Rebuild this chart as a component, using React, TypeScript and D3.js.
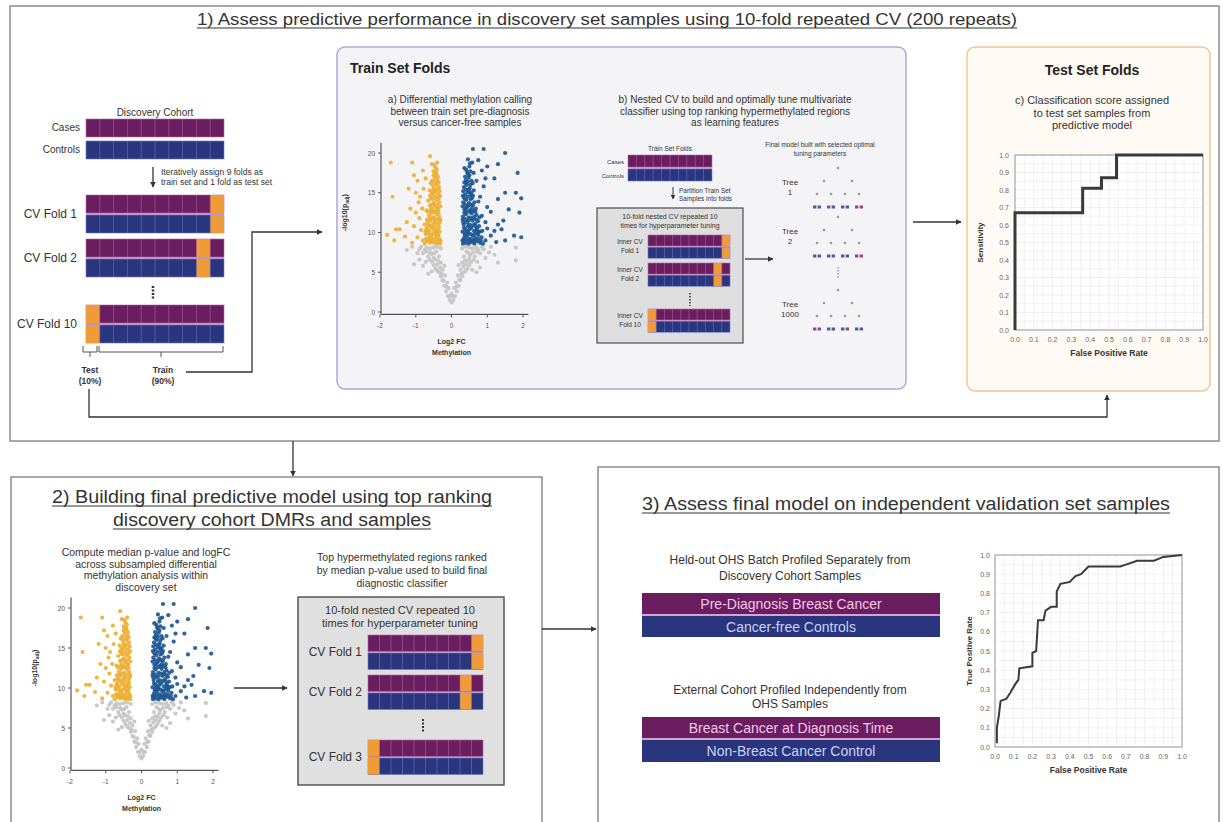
import React from "react";
import * as d3 from "d3";

const FONT = "'Liberation Sans', Arial, Helvetica, sans-serif";
const CASE = "#6b1e5f";
const CASE_LINE = "#b566a8";
const CTRL = "#29357d";
const CTRL_LINE = "#6a7cc8";
const TEST = "#f09a38";
const YELLOW = "#edb035";
const BLUE = "#1d5892";
const GREY = "#c4c4c4";
const INK = "#333";
const BOX = "#8c8c8c";

// tick labels
const FC_TICKS = [-2, -1, 0, 1, 2];
const P_TICKS = [0, 5, 10, 15, 20];
const ROC_TICKS = [0, 0.1, 0.2, 0.3, 0.4, 0.5, 0.6, 0.7, 0.8, 0.9, 1.0];
const CELLS = [0, 1, 2, 3, 4, 5, 6, 7, 8, 9];

// folds: index of the held-out (test) cell
const OUTER_FOLDS = ["CV Fold 1", "CV Fold 2", "CV Fold 10"];
const OUTER_TEST = [9, 8, 0];
const INNER_FOLDS = [["Inner CV", "Fold 1"], ["Inner CV", "Fold 2"], ["Inner CV", "Fold 10"]];
const INNER_TEST = [9, 8, 0];
const FINAL_FOLDS = ["CV Fold 1", "CV Fold 2", "CV Fold 3"];
const FINAL_TEST = [9, 8, 0];

// random forest trees
const TREE_NAMES = ["1", "2", "1000"];
const TREE_LEAVES = [
  ["n", "n", "p", "n", "n", "n", "p", "p"],
  ["n", "n", "n", "n", "n", "n", "p", "p"],
  ["p", "p", "n", "n", "n", "p", "n", "n"],
];

// volcano plot: [log2FC, -log10(p_adj)]
const VOLC_DOWN: [number, number][] = [
  [-0.32, 8.6], [-0.38, 8.7], [-0.45, 8.6], [-0.52, 8.8], [-0.6, 8.7], [-0.68, 8.9], [-0.75, 8.6], [-0.35, 9.3],
  [-0.42, 9.5], [-0.5, 9.2], [-0.57, 9.6], [-0.64, 9.3], [-0.72, 9.8], [-0.33, 10.1], [-0.4, 10.4], [-0.47, 10.0],
  [-0.55, 10.6], [-0.62, 10.2], [-0.7, 10.5], [-0.36, 11.0], [-0.44, 11.3], [-0.51, 11.1], [-0.59, 11.5], [-0.66, 11.2],
  [-0.34, 12.0], [-0.41, 12.3], [-0.48, 11.9], [-0.56, 12.4], [-0.63, 12.1], [-0.37, 12.9], [-0.45, 13.2], [-0.52, 12.8],
  [-0.6, 13.4], [-0.34, 13.8], [-0.42, 14.1], [-0.49, 13.7], [-0.57, 14.3], [-0.65, 14.0], [-0.38, 14.8], [-0.46, 15.1],
  [-0.53, 14.7], [-0.61, 15.3], [-0.35, 15.7], [-0.43, 16.0], [-0.5, 15.6], [-0.58, 16.2], [-0.39, 16.6], [-0.47, 16.9],
  [-0.54, 16.5], [-0.42, 17.4], [-0.5, 17.7], [-0.45, 18.2], [-0.55, 18.6], [-0.4, 18.8], [-0.31, 9.0], [-0.39, 9.9],
  [-0.46, 10.8], [-0.53, 9.8], [-0.61, 8.9], [-0.67, 9.9], [-0.31, 11.6], [-0.38, 11.7], [-0.5, 12.6], [-0.31, 13.3],
  [-0.39, 13.5], [-0.55, 13.5], [-0.32, 14.6], [-0.51, 15.0], [-0.36, 16.3], [-0.44, 17.5],
  [-0.34, 8.9], [-0.41, 9.1], [-0.49, 8.9], [-0.56, 9.1], [-0.64, 9.0], [-0.71, 9.2], [-0.37, 9.7], [-0.45, 9.8],
  [-0.6, 9.7], [-0.68, 10.3], [-0.35, 10.6], [-0.43, 10.2], [-0.51, 10.4], [-0.58, 10.9], [-0.65, 10.8], [-0.73, 10.1],
  [-0.33, 11.3], [-0.47, 11.5], [-0.55, 11.8], [-0.62, 11.7], [-0.69, 11.6], [-0.36, 12.5], [-0.44, 12.6], [-0.59, 12.7],
  [-0.66, 12.6], [-0.4, 13.0], [-0.48, 13.4], [-0.57, 13.0], [-0.36, 14.3], [-0.45, 14.5], [-0.53, 14.2], [-0.6, 14.6],
  [-0.41, 15.4], [-0.49, 15.4], [-0.56, 15.0], [-0.33, 15.2], [-0.4, 16.2], [-0.53, 16.0], [-0.46, 16.4], [-0.38, 17.0],
  [-0.5, 17.2], [-0.41, 17.9], [-0.48, 18.5],
  [-0.8, 9.0], [-0.85, 10.3], [-0.9, 11.8], [-0.82, 13.0], [-0.88, 14.5], [-0.78, 15.5], [-0.95, 16.5], [-0.8, 17.8],
  [-0.6, 19.6], [-1.05, 17.2], [-1.1, 18.8], [-1.0, 12.5], [-1.05, 10.8], [-0.95, 9.4], [-1.2, 15.5], [-1.15, 13.0],
  [-1.25, 11.3], [-1.1, 8.7], [-1.3, 9.5], [-1.45, 10.4], [-1.55, 10.4], [-1.6, 9.0], [-1.8, 9.7], [-1.65, 14.5],
  [-1.7, 18.8], [-0.72, 16.8], [-0.7, 12.8], [-0.75, 11.0], [-0.92, 13.8], [-1.0, 15.0],
];
const VOLC_UP: [number, number][] = [
  [0.32, 8.6], [0.4, 8.7], [0.48, 8.6], [0.56, 8.8], [0.64, 8.6], [0.72, 8.9], [0.8, 8.7], [0.88, 8.6], [0.35, 9.3],
  [0.43, 9.5], [0.51, 9.2], [0.59, 9.6], [0.67, 9.3], [0.75, 9.7], [0.84, 9.4], [0.31, 10.1], [0.39, 10.4], [0.47, 10.0],
  [0.55, 10.6], [0.63, 10.2], [0.71, 10.5], [0.79, 10.1], [0.34, 11.0], [0.42, 11.3], [0.5, 11.0], [0.58, 11.5],
  [0.66, 11.1], [0.74, 11.4], [0.32, 12.0], [0.4, 12.3], [0.48, 11.9], [0.56, 12.4], [0.64, 12.0], [0.36, 12.9],
  [0.44, 13.2], [0.52, 12.8], [0.6, 13.4], [0.68, 13.0], [0.33, 13.8], [0.41, 14.1], [0.49, 13.7], [0.57, 14.3],
  [0.38, 14.8], [0.46, 15.1], [0.54, 14.7], [0.62, 15.3], [0.35, 15.7], [0.43, 16.0], [0.51, 15.6], [0.59, 16.2],
  [0.4, 16.6], [0.48, 16.9], [0.56, 16.5], [0.45, 17.4], [0.53, 17.7], [0.5, 18.3], [0.58, 18.8], [0.46, 19.2],
  [0.31, 9.0], [0.38, 9.9], [0.46, 10.8], [0.53, 9.8], [0.61, 8.9], [0.69, 9.9], [0.31, 11.6], [0.38, 11.7],
  [0.52, 12.6], [0.31, 13.3], [0.38, 13.5], [0.55, 13.5], [0.32, 14.6], [0.5, 15.0], [0.36, 16.3], [0.44, 17.6],
  [0.36, 18.1], [0.7, 12.2], [0.77, 10.8], [0.86, 10.2],
  [0.34, 8.9], [0.42, 9.1], [0.5, 8.9], [0.58, 9.1], [0.66, 9.0], [0.74, 9.2], [0.82, 9.0], [0.37, 9.7], [0.45, 9.8],
  [0.62, 9.7], [0.7, 10.3], [0.35, 10.6], [0.43, 10.2], [0.51, 10.4], [0.59, 10.9], [0.67, 10.8], [0.75, 10.1],
  [0.33, 11.3], [0.47, 11.5], [0.55, 11.8], [0.62, 11.7], [0.7, 11.6], [0.78, 11.9], [0.36, 12.5], [0.44, 12.6],
  [0.6, 12.7], [0.67, 12.6], [0.4, 13.0], [0.48, 13.4], [0.57, 13.0], [0.64, 13.8], [0.36, 14.3], [0.45, 14.5],
  [0.53, 14.2], [0.6, 14.6], [0.41, 15.4], [0.49, 15.4], [0.56, 15.0], [0.33, 15.2], [0.4, 16.2], [0.53, 16.0],
  [0.46, 16.4], [0.38, 17.0], [0.5, 17.2], [0.41, 17.9], [0.52, 18.7], [0.62, 17.5],
  [0.6, 20.5], [0.9, 20.5], [1.5, 20.0], [0.75, 19.1], [1.0, 18.3], [1.3, 18.6], [0.85, 17.8], [1.85, 17.5],
  [0.95, 16.8], [0.7, 16.5], [1.2, 16.8], [0.9, 15.8], [1.8, 15.0], [1.5, 15.0], [1.95, 14.3], [1.3, 14.2],
  [0.8, 14.5], [1.0, 13.2], [0.75, 13.9], [1.6, 12.9], [1.1, 12.6], [1.9, 12.5], [0.85, 12.1], [1.45, 11.5],
  [0.95, 11.3], [1.3, 11.0], [1.2, 10.2], [1.4, 10.4], [1.1, 9.6], [1.75, 9.6], [1.95, 9.4], [1.5, 9.0],
  [0.95, 9.0], [1.0, 10.5], [1.25, 8.8],
];
const VOLC_NS: [number, number][] = [
  [0, 1.2], [-0.05, 1.5], [0.05, 1.5], [-0.1, 2.0], [0.1, 2.0], [0, 2.3], [-0.15, 2.6], [0.15, 2.6], [-0.08, 3.0],
  [0.08, 3.0], [-0.2, 3.3], [0.2, 3.3], [-0.12, 3.7], [0.12, 3.7], [-0.25, 4.0], [0.25, 4.0], [-0.3, 4.5], [0.3, 4.5],
  [-0.18, 4.6], [0.18, 4.6], [-0.35, 5.0], [0.35, 5.0], [-0.25, 5.3], [0.25, 5.3], [-0.45, 5.5], [0.45, 5.5],
  [-0.4, 6.0], [0.4, 6.0], [-0.3, 6.2], [0.3, 6.2], [-0.55, 6.3], [0.55, 6.3], [-0.5, 6.8], [0.5, 6.8], [-0.35, 7.0],
  [0.35, 7.0], [-0.65, 7.0], [0.65, 7.0], [-0.6, 7.5], [0.6, 7.5], [-0.42, 7.6], [0.42, 7.6], [-0.75, 7.8],
  [0.75, 7.8], [-0.3, 8.0], [0.3, 8.0], [-0.5, 8.1], [0.5, 8.1], [-0.85, 8.2], [0.85, 8.2], [-0.7, 8.1], [0.7, 8.1],
  [-0.22, 3.9], [0.22, 4.1], [-0.32, 5.6], [0.33, 5.7], [-0.46, 6.6], [0.45, 6.4], [-0.55, 7.3], [0.52, 7.2],
  [-0.6, 8.0], [0.6, 8.0], [-0.4, 8.2], [0.4, 8.2], [-0.8, 7.4], [0.8, 7.4], [-0.7, 7.6], [0.7, 7.6], [-0.48, 7.4],
  [0.48, 7.4], [-0.62, 6.6], [0.62, 6.6], [-0.38, 6.5], [0.38, 6.5], [-0.72, 6.3], [0.72, 6.3], [-0.5, 5.9],
  [0.5, 5.9], [-0.28, 4.8], [0.28, 4.8], [-0.4, 5.2], [0.4, 5.2], [-0.15, 3.2], [0.15, 3.2], [-0.05, 2.0], [0.05, 2.0],
  [-0.9, 7.9], [0.9, 7.9], [-0.55, 5.1], [0.58, 5.3],
  [-1.05, 6.0], [-1.25, 7.8], [-0.95, 7.4], [-0.9, 6.6], [1.05, 7.5], [1.2, 7.2], [1.3, 6.2], [0.95, 6.8], [1.8, 8.1],
  [1.8, 6.5], [-0.8, 5.8], [0.8, 5.6], [-0.65, 4.8], [0.7, 5.0], [-0.2, 5.8], [0.2, 5.9], [1.1, 8.2], [-1.1, 8.2],
];

// ROC curves: [false positive rate, true positive rate]
const ROC_CV: [number, number][] = [[0, 0], [0, 0.67], [0.36, 0.81], [0.46, 0.87], [0.54, 1.0], [1.0, 1.0]];
const ROC_VAL: [number, number][] = [
  [0.01, 0.02], [0.01, 0.1], [0.02, 0.16], [0.03, 0.24], [0.06, 0.25], [0.08, 0.28], [0.11, 0.33], [0.125, 0.35],
  [0.13, 0.41], [0.2, 0.42], [0.2, 0.49], [0.22, 0.5], [0.23, 0.66], [0.26, 0.66], [0.27, 0.71], [0.3, 0.73],
  [0.33, 0.73], [0.33, 0.81], [0.35, 0.85], [0.4, 0.86], [0.43, 0.89], [0.46, 0.9], [0.5, 0.94], [0.67, 0.94],
  [0.7, 0.95], [0.76, 0.97], [0.85, 0.97], [0.9, 0.99], [1.0, 1.0],
];

function Lines({ x, y, dy, lines, size, anchor = "middle", weight = "normal", fill = INK }: any) {
  return (
    <text x={x} y={y} fontSize={size} textAnchor={anchor} fontWeight={weight} fill={fill} fontFamily={FONT}>
      {lines.map((l: string, i: number) => (
        <tspan key={i} x={x} dy={i === 0 ? 0 : dy}>{l}</tspan>
      ))}
    </text>
  );
}

function FoldGrid({ x, y, w, rowH, gap, test, gapFill = "#d9a3cf" }: any) {
  const band = d3.scaleBand<number>().domain(CELLS).range([x, x + w]);
  const rows = [
    { fill: CASE, line: CASE_LINE },
    { fill: CTRL, line: CTRL_LINE },
  ];
  return (
    <g>
      {gap > 0 && <rect x={x} y={y + rowH} width={w} height={gap} fill={gapFill} />}
      {rows.map((row, r) => {
        const ry = y + r * (rowH + gap);
        return (
          <g key={r}>
            <rect x={x} y={ry} width={w} height={rowH} fill={row.fill} stroke={row.line} strokeWidth={0.6} />
            {test != null && (
              <rect x={band(test)} y={ry} width={band.bandwidth()} height={rowH} fill={TEST} />
            )}
            {CELLS.slice(1).map((c) => (
              <line key={c} x1={band(c)} x2={band(c)} y1={ry} y2={ry + rowH} stroke={row.line} strokeWidth={0.7} opacity={0.8} />
            ))}
          </g>
        );
      })}
    </g>
  );
}

function Volcano({ left, right, bottom, top }: any) {
  const x = d3.scaleLinear().domain([-2, 2]).range([left, right]);
  const y = d3.scaleLinear().domain([0, 20]).range([bottom, top]);
  const groups = [
    { data: VOLC_NS, fill: GREY },
    { data: VOLC_DOWN, fill: YELLOW },
    { data: VOLC_UP, fill: BLUE },
  ];
  const axisY = y(-0.3);
  return (
    <g fontFamily={FONT}>
      {groups.map((g, gi) => (
        <g key={gi}>
          {g.data.map((d, i) => (
            <circle key={i} cx={x(d[0])} cy={y(d[1])} r={2.1} fill={g.fill} opacity={0.92} />
          ))}
        </g>
      ))}
      <line x1={x(-2) + 1} x2={x(-2) + 1} y1={axisY} y2={y(21.3)} stroke="#555" strokeWidth={1.2} />
      <line x1={x(-2) + 1} x2={x(2.15)} y1={axisY} y2={axisY} stroke="#555" strokeWidth={1.2} />
      {P_TICKS.map((t) => (
        <g key={t}>
          <line x1={x(-2) - 2} x2={x(-2) + 1} y1={y(t)} y2={y(t)} stroke="#555" />
          <text x={x(-2) - 5} y={y(t) + 2.5} fontSize={6.5} textAnchor="end" fill="#555">{t}</text>
        </g>
      ))}
      {FC_TICKS.map((t) => (
        <g key={t}>
          <line x1={x(t)} x2={x(t)} y1={axisY} y2={axisY + 3} stroke="#555" />
          <text x={x(t)} y={bottom + 16} fontSize={6.5} textAnchor="middle" fill="#555">{t}</text>
        </g>
      ))}
      <Lines x={x(0)} y={bottom + 32} dy={11} lines={["Log2 FC", "Methylation"]} size={7} weight="bold" />
      <text transform={`translate(${left - 33},${y(12.5)}) rotate(-90)`} fontSize={7} fontWeight="bold" textAnchor="middle" fill={INK}>
        -log10(p<tspan fontSize={5} dy={2}>adj</tspan><tspan dy={-2}>)</tspan>
      </text>
    </g>
  );
}

function Roc({ x0, x1, y0, y1, data, step, yLabel, labelDx, tickDx, width }: any) {
  const x = d3.scaleLinear().domain([0, 1]).range([x0, x1]);
  const y = d3.scaleLinear().domain([0, 1]).range([y1, y0]);
  const line = d3.line<[number, number]>().x((d) => x(d[0])).y((d) => y(d[1])).curve(step ? d3.curveStepAfter : d3.curveLinear);
  const minor = x.ticks(20);
  return (
    <g fontFamily={FONT}>
      <rect x={x0} y={y0} width={x1 - x0} height={y1 - y0} fill="#fff" />
      {minor.map((t, i) => (
        <g key={i}>
          <line x1={x(t)} x2={x(t)} y1={y0} y2={y1} stroke="#d8d8d8" strokeWidth={0.6} strokeDasharray="1.5,1" />
          <line x1={x0} x2={x1} y1={y(t)} y2={y(t)} stroke="#d8d8d8" strokeWidth={0.6} strokeDasharray="1.5,1" />
        </g>
      ))}
      <rect x={x0} y={y0} width={x1 - x0} height={y1 - y0} fill="none" stroke="#9a9a9a" strokeWidth={1} />
      {ROC_TICKS.map((t) => (
        <g key={t}>
          <text x={x0 - tickDx} y={y(t) + 2.5} fontSize={7} textAnchor="end" fill="#666">{t.toFixed(1)}</text>
          <text x={x(t)} y={y1 + 12} fontSize={7} textAnchor="middle" fill="#666">{t.toFixed(1)}</text>
        </g>
      ))}
      <path d={line(data) || ""} fill="none" stroke="#3a3a3a" strokeWidth={width} strokeLinejoin="miter" />
      <text x={(x0 + x1) / 2} y={y1 + 26} fontSize={8.5} fontWeight="bold" textAnchor="middle" fill={INK}>False Positive Rate</text>
      <text transform={`translate(${x0 - labelDx},${(y0 + y1) / 2}) rotate(-90)`} fontSize={8} fontWeight="bold" textAnchor="middle" fill={INK}>{yLabel}</text>
    </g>
  );
}

function Tree({ cx, top, leaves }: any) {
  const build = (d: number): any => (d === 0 ? {} : { children: [build(d - 1), build(d - 1)] });
  const root = d3.hierarchy(build(3));
  d3.tree().size([56, 39])(root);
  const nodes = root.descendants() as any[];
  const leafNodes = root.leaves() as any[];
  return (
    <g transform={`translate(${cx - 28},${top})`}>
      {nodes.filter((n) => n.children).map((n, i) => (
        <circle key={i} cx={n.x} cy={n.y} r={1.3} fill="#9a9a9a" />
      ))}
      {leafNodes.map((n, i) => (
        <rect key={i} x={n.x - 1.7} y={n.y - 1.5} width={3.4} height={3} fill={leaves[i] === "p" ? "#8e4a85" : "#4e5aa0"} />
      ))}
    </g>
  );
}

export default function App() {
  const arrowProps = { fill: "none", stroke: INK, strokeWidth: 1.3, markerEnd: "url(#ah)" };
  return (
    <svg width={1223} height={822} style={{ position: "absolute", left: 0, top: 0 }} fontFamily={FONT}>
      <defs>
        <marker id="ah" viewBox="0 0 10 10" refX="9" refY="5" markerWidth="4.5" markerHeight="4.5" orient="auto">
          <path d="M0,0L10,5L0,10z" fill={INK} />
        </marker>
      </defs>
      <rect width={1223} height={822} fill="#fff" />

      {/* ---------- section 1 ---------- */}
      <rect x={10} y={6} width={1209} height={435} fill="#fff" stroke={BOX} strokeWidth={1.5} />
      <text x={607} y={25} fontSize={16} textAnchor="middle" fill={INK} textLength={820} lengthAdjust="spacingAndGlyphs">
        1) Assess predictive performance in discovery set samples using 10-fold repeated CV (200 repeats)
      </text>
      <line x1={197} x2={1017} y1={28} y2={28} stroke={INK} strokeWidth={1} />

      {/* discovery cohort */}
      <text x={155} y={116} fontSize={10} textAnchor="middle" fill={INK}>Discovery Cohort</text>
      <FoldGrid x={86} y={119} w={138} rowH={18} gap={4} test={null} gapFill="#fff" />
      <text x={80} y={131} fontSize={10} textAnchor="end" fill={INK}>Cases</text>
      <text x={80} y={153} fontSize={10} textAnchor="end" fill={INK}>Controls</text>
      <line x1={153} x2={153} y1={167} y2={187} {...arrowProps} />
      <Lines x={161} y={175} dy={10} lines={["Iteratively assign 9 folds as", "train set and 1 fold as test set"]} size={8.5} anchor="start" />
      {OUTER_FOLDS.map((label, i) => {
        const y = [195, 239, 305][i];
        return (
          <g key={label}>
            <FoldGrid x={86} y={y} w={138} rowH={18} gap={2} test={OUTER_TEST[i]} />
            <text x={77} y={y + 23} fontSize={12} textAnchor="end" fill={INK}>{label}</text>
          </g>
        );
      })}
      <line x1={153} x2={153} y1={286} y2={300} stroke={INK} strokeWidth={2.5} strokeDasharray="2,1.5" />
      <path d="M83,346 V352 H97 V346 M90,352 V357" fill="none" stroke="#555" strokeWidth={1} />
      <path d="M99,346 V352 H223 V346 M161,352 V357" fill="none" stroke="#555" strokeWidth={1} />
      <Lines x={90} y={373} dy={11} lines={["Test", "(10%)"]} size={8.5} weight="bold" />
      <Lines x={163} y={373} dy={11} lines={["Train", "(90%)"]} size={8.5} weight="bold" />
      <path d="M186,372 H252 V232 H322" {...arrowProps} />
      <path d="M89,389 V417 H1107 V395" {...arrowProps} />

      {/* train set folds box */}
      <rect x={337} y={47} width={569} height={342} rx={8} fill="#f4f4f7" stroke="#aca9dc" strokeWidth={1.5} />
      <text x={350} y={73} fontSize={14} fontWeight="bold" fill="#222">Train Set Folds</text>
      <Lines x={460} y={103} dy={11.5} size={10} lines={["a) Differential methylation calling", "between train set pre-diagnosis", "versus cancer-free samples"]} />
      <Volcano left={380} right={523} bottom={312} top={153} />

      <Lines x={735} y={103} dy={11.5} size={10} lines={["b) Nested CV to build and optimally tune multivariate", "classifier using top ranking hypermethylated regions", "as learning features"]} />
      <text x={670} y={151} fontSize={6.5} textAnchor="middle" fill={INK}>Train Set Folds</text>
      <FoldGrid x={628} y={155} w={84} rowH={12} gap={2} test={null} />
      <text x={624} y={164} fontSize={6} textAnchor="end" fill={INK}>Cases</text>
      <text x={624} y={178} fontSize={6} textAnchor="end" fill={INK}>Controls</text>
      <line x1={673} x2={673} y1={187} y2={199} {...arrowProps} strokeWidth={1} />
      <Lines x={679} y={193} dy={8} lines={["Partition Train Set", "Samples into folds"]} size={6.5} anchor="start" />
      <rect x={597} y={208} width={146} height={135} fill="#dedede" stroke="#5a5a5a" strokeWidth={1.3} />
      <Lines x={670} y={219} dy={8.5} lines={["10-fold nested CV repeated 10", "times for hyperparameter tuning"]} size={7} />
      {INNER_FOLDS.map((lab, i) => {
        const y = [235, 263, 309][i];
        return (
          <g key={i}>
            <FoldGrid x={648} y={y} w={82} rowH={11} gap={1.2} test={INNER_TEST[i]} />
            <Lines x={630} y={y + 9} dy={9} lines={lab} size={6.5} />
          </g>
        );
      })}
      <line x1={690} x2={690} y1={293} y2={306} stroke={INK} strokeWidth={1.5} strokeDasharray="1.5,1.5" />
      <line x1={745} x2={773} y1={259} y2={259} {...arrowProps} />
      <Lines x={820} y={147} dy={9} lines={["Final model built with selected optimal", "tuning parameters"]} size={6.5} />
      {TREE_NAMES.map((name, i) => {
        const top = [168, 217, 290][i];
        return (
          <g key={name}>
            <Lines x={790} y={top + 17} dy={10} lines={["Tree", name]} size={8} />
            <Tree cx={838} top={top} leaves={TREE_LEAVES[i]} />
          </g>
        );
      })}
      <line x1={838} x2={838} y1={267} y2={279} stroke="#888" strokeWidth={1.2} strokeDasharray="1.5,1.5" />
      <line x1={913} x2={961} y1={222} y2={222} {...arrowProps} />

      {/* test set folds box */}
      <rect x={967} y={47} width={243} height={344} rx={8} fill="#fffbf4" stroke="#f0c796" strokeWidth={1.5} />
      <text x={1092} y={75} fontSize={14} fontWeight="bold" textAnchor="middle" fill="#222">Test Set Folds</text>
      <Lines x={1092} y={104} dy={12.5} size={11} lines={["c) Classification score assigned", "to test set samples from", "predictive model"]} />
      <Roc x0={1015} x1={1203} y0={155} y1={330} data={ROC_CV} step={true} yLabel="Sensitivity" labelDx={32} tickDx={6} width={3} />

      {/* ---------- section 2 ---------- */}
      <line x1={293} x2={293} y1={441} y2={476} {...arrowProps} />
      <rect x={11} y={477} width={531} height={360} fill="#fff" stroke={BOX} strokeWidth={1.5} />
      <text x={272} y={503} fontSize={18} textAnchor="middle" fill={INK} textLength={440} lengthAdjust="spacingAndGlyphs">
        2) Building final predictive model using top ranking
      </text>
      <line x1={52} x2={492} y1={506} y2={506} stroke={INK} strokeWidth={1} />
      <text x={272} y={526} fontSize={18} textAnchor="middle" fill={INK} textLength={318} lengthAdjust="spacingAndGlyphs">
        discovery cohort DMRs and samples
      </text>
      <line x1={113} x2={431} y1={529} y2={529} stroke={INK} strokeWidth={1} />
      <Lines x={146} y={556} dy={11.7} size={10.5} lines={["Compute median p-value and logFC", "across subsampled differential", "methylation analysis within", "discovery set"]} />
      <Volcano left={70} right={213} bottom={768} top={608} />
      <line x1={234} x2={287} y1={688} y2={688} {...arrowProps} />
      <Lines x={402} y={561} dy={13} size={10.5} lines={["Top hypermethylated regions ranked", "by median p-value used to build final", "diagnostic classifier"]} />
      <rect x={298} y={597} width={206} height={188} fill="#e0e0e0" stroke="#555" strokeWidth={1.5} />
      <Lines x={400} y={614} dy={13} size={11} lines={["10-fold nested CV repeated 10", "times for hyperparameter tuning"]} />
      {FINAL_FOLDS.map((label, i) => {
        const y = [635, 675, 740][i];
        return (
          <g key={label}>
            <FoldGrid x={368} y={y} w={115} rowH={16.5} gap={1.5} test={FINAL_TEST[i]} />
            <text x={362} y={y + 21} fontSize={12} textAnchor="end" fill={INK}>{label}</text>
          </g>
        );
      })}
      <line x1={423} x2={423} y1={719} y2={733} stroke={INK} strokeWidth={2} strokeDasharray="2,1.5" />

      {/* ---------- section 3 ---------- */}
      <line x1={542} x2={596} y1={629} y2={629} {...arrowProps} />
      <rect x={598} y={467} width={621} height={370} fill="#fff" stroke={BOX} strokeWidth={1.5} />
      <text x={906} y={510} fontSize={18} textAnchor="middle" fill={INK} textLength={528} lengthAdjust="spacingAndGlyphs">
        3) Assess final model on independent validation set samples
      </text>
      <line x1={642} x2={1170} y1={513} y2={513} stroke={INK} strokeWidth={1} />
      <Lines x={790} y={564} dy={16} size={12} lines={["Held-out OHS Batch Profiled Separately from", "Discovery Cohort Samples"]} />
      <rect x={642} y={593} width={298} height={21} fill={CASE} />
      <rect x={642} y={614} width={298} height={2} fill="#d9a3cf" />
      <rect x={642} y={616} width={298} height={21} fill={CTRL} />
      <text x={791} y={609} fontSize={14} textAnchor="middle" fill="#f3c6ea">Pre-Diagnosis Breast Cancer</text>
      <text x={791} y={632} fontSize={14} textAnchor="middle" fill="#c8d4f6">Cancer-free Controls</text>
      <Lines x={790} y={694} dy={14} size={12} lines={["External Cohort Profiled Independently from", "OHS Samples"]} />
      <rect x={642} y={717} width={298} height={21} fill={CASE} />
      <rect x={642} y={738} width={298} height={2} fill="#d9a3cf" />
      <rect x={642} y={740} width={298} height={22} fill={CTRL} />
      <text x={791} y={733} fontSize={14} textAnchor="middle" fill="#f3c6ea">Breast Cancer at Diagnosis Time</text>
      <text x={791} y={756} fontSize={14} textAnchor="middle" fill="#c8d4f6">Non-Breast Cancer Control</text>
      <Roc x0={995} x1={1182} y0={555} y1={747} data={ROC_VAL} step={false} yLabel="True Positive Rate" labelDx={23} tickDx={5} width={2} />
    </svg>
  );
}
